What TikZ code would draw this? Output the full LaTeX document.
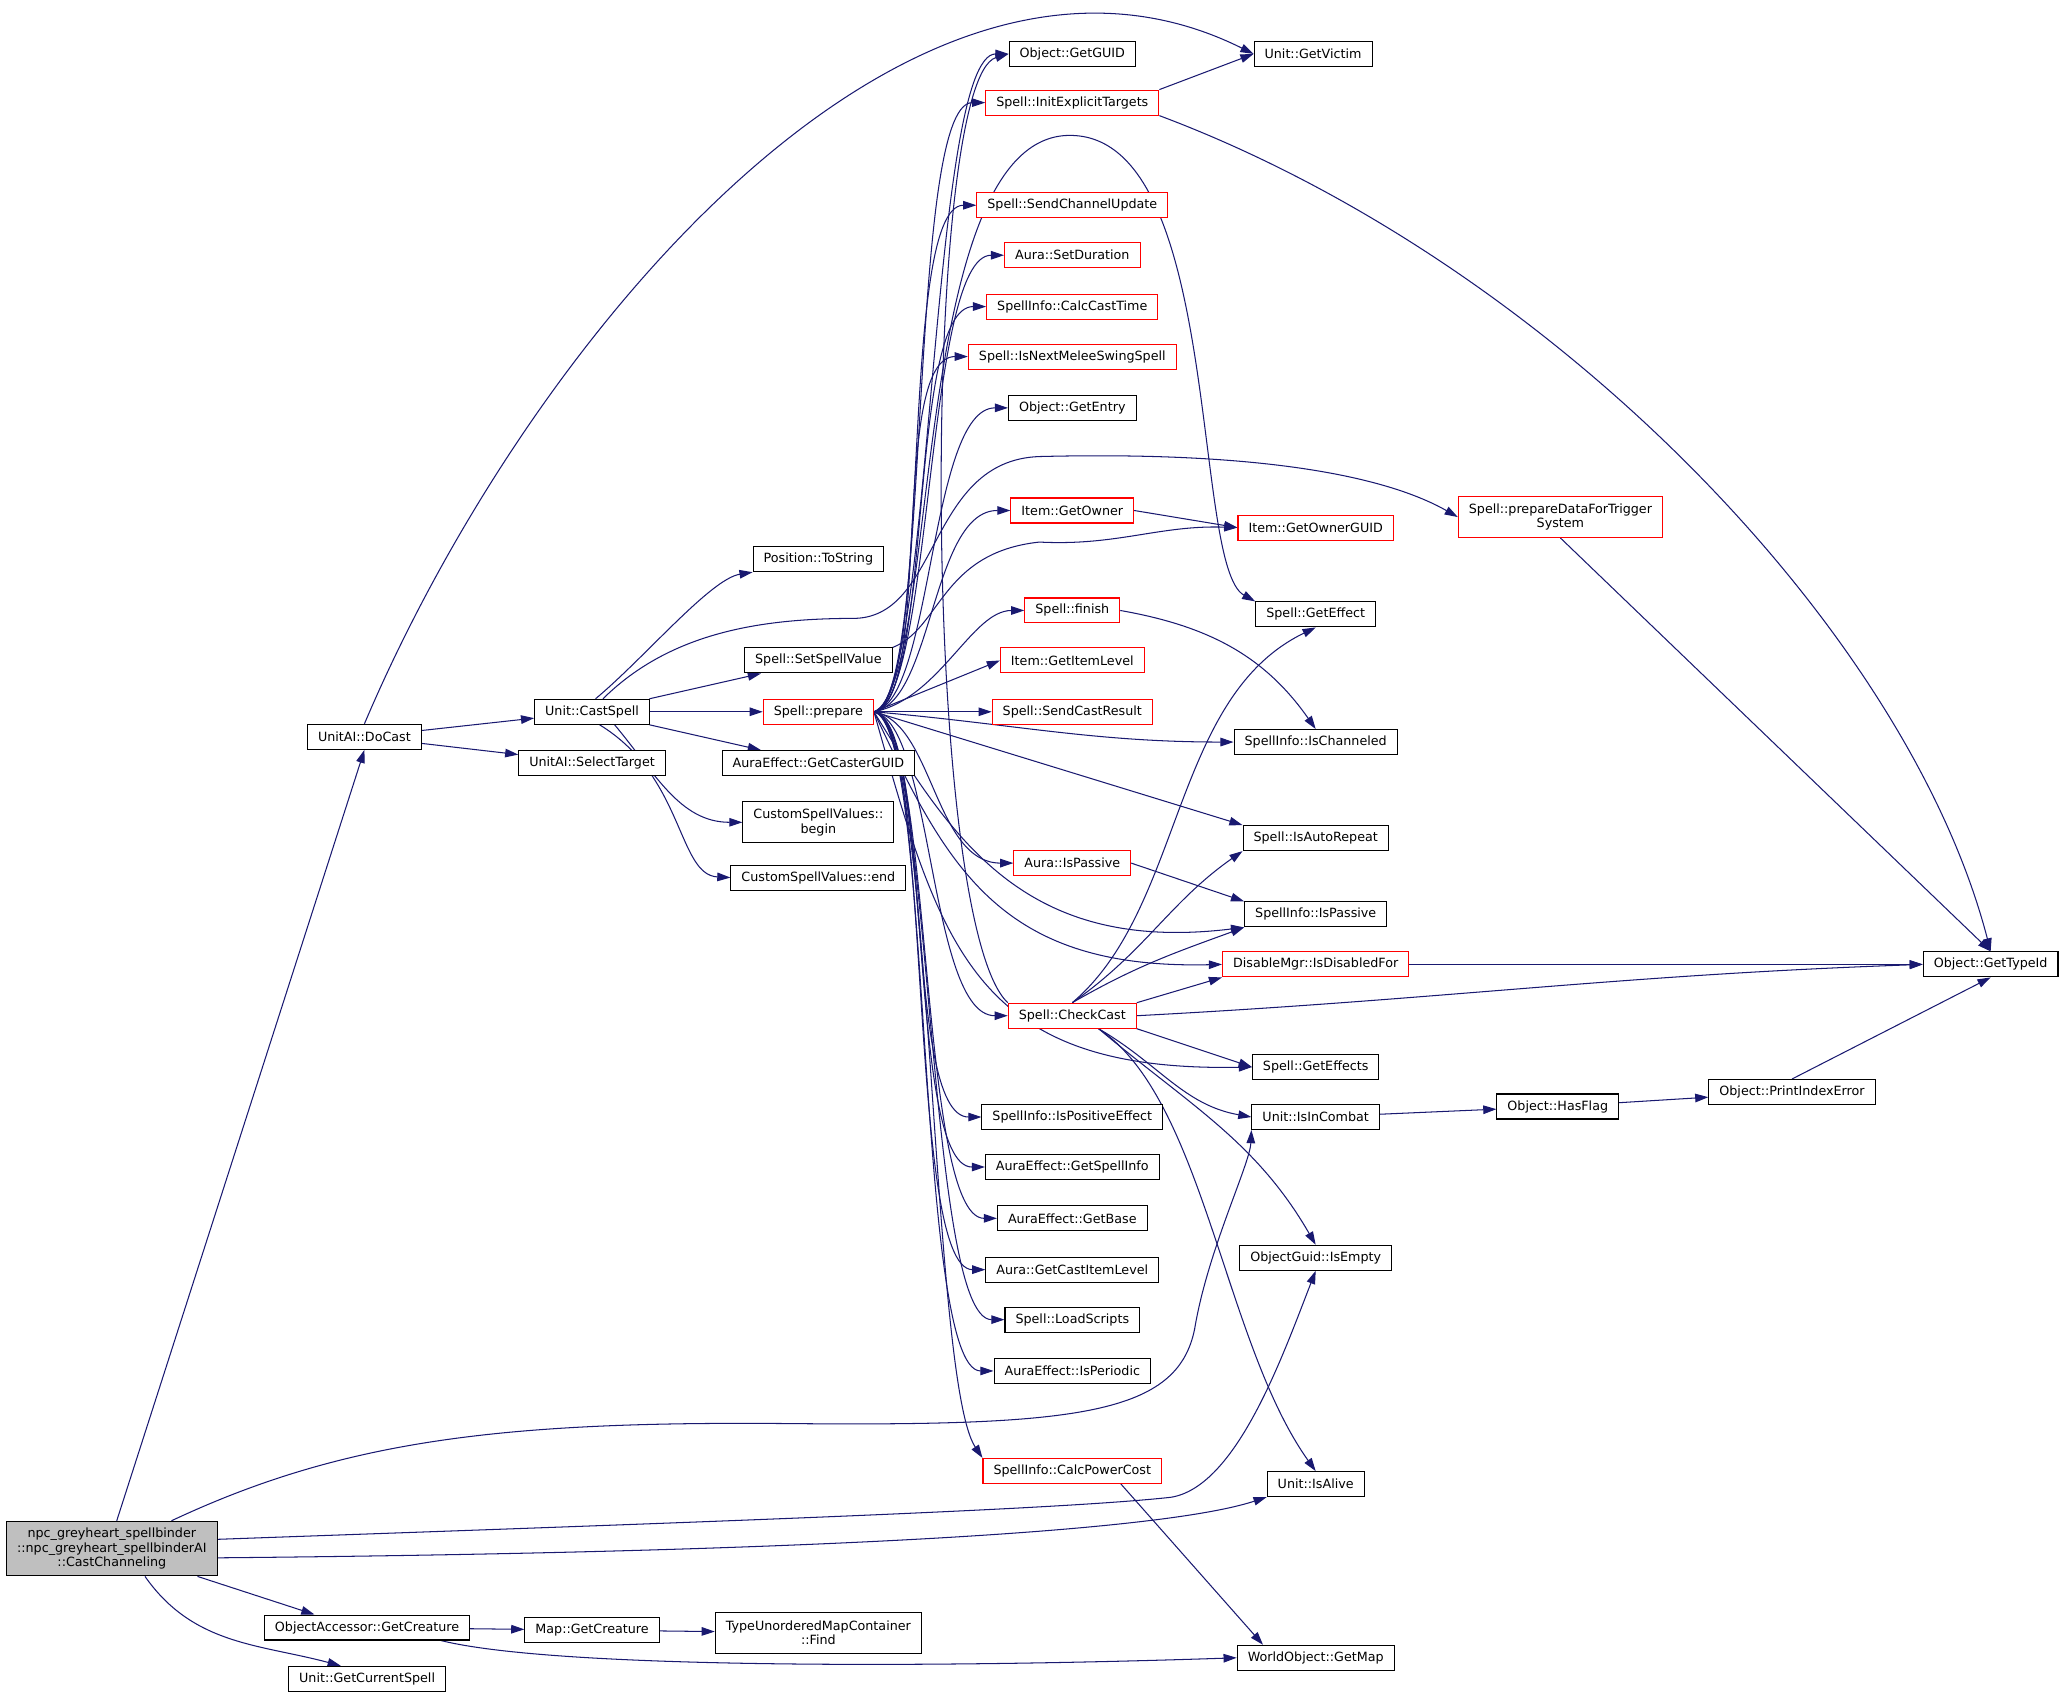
\documentclass[tikz,border=0pt]{standalone}
\usepackage{fontspec}
\setmainfont{DejaVu Sans}
\usetikzlibrary{arrows.meta, backgrounds}
\definecolor{edgeblue}{RGB}{25,25,112}
\definecolor{mainfill}{RGB}{191,191,191}
\tikzset{fn/.style={draw=black, fill=white, line width=0.45pt, inner xsep=0.16cm, inner ysep=0pt, minimum height=0.38cm, align=center, font=\fontsize{5.5}{6.4}\selectfont}}
\tikzset{fnred/.style={fn, draw=red}}
\tikzset{fnmain/.style={fn, fill=mainfill, minimum height=0.83cm}}
\tikzset{twoline/.style={minimum height=0.62cm}}
\tikzset{call/.style={draw=edgeblue, line width=0.45pt, -{Triangle[length=2mm, width=1.3mm]}}}

\begin{document}
\begin{tikzpicture}[x=0.02cm, y=-0.02cm]
            \useasboundingbox (0,0) rectangle (1568,1290);
            % caller and first level
            \node[fnmain] (chan) at (85,1177) {npc\_greyheart\_spellbinder\\::npc\_greyheart\_spellbinderAI\\::CastChanneling};
            \node[fn] (docast) at (277,560) {UnitAI::DoCast};
            \node[fn] (getcre) at (279,1237) {ObjectAccessor::GetCreature};
            \node[fn] (curspell) at (279,1276) {Unit::GetCurrentSpell};
            \node[fn] (castspell) at (450,541) {Unit::CastSpell};
            \node[fn] (seltarget) at (450,580) {UnitAI::SelectTarget};
            \node[fn] (mapcre) at (450,1239) {Map::GetCreature};
            % third column
            \node[fn] (tostring) at (622,425) {Position::ToString};
            \node[fn] (setvalue) at (622,502) {Spell::SetSpellValue};
            \node[fnred] (prepare) at (622,541) {Spell::prepare};
            \node[fn] (castguid) at (622,580) {AuraEffect::GetCasterGUID};
            \node[fn, twoline] (cbegin) at (622,625) {CustomSpellValues::\\begin};
            \node[fn] (cend) at (622,667) {CustomSpellValues::end};
            \node[fn, twoline] (find) at (622,1241) {TypeUnorderedMapContainer\\::Find};
            % fourth column
            \node[fn] (guid) at (815,41) {Object::GetGUID};
            \node[fnred] (initexp) at (815,78) {Spell::InitExplicitTargets};
            \node[fnred] (chanupd) at (815,156) {Spell::SendChannelUpdate};
            \node[fnred] (setdur) at (815,194) {Aura::SetDuration};
            \node[fnred] (casttime) at (815,233) {SpellInfo::CalcCastTime};
            \node[fnred] (melee) at (815,271) {Spell::IsNextMeleeSwingSpell};
            \node[fn] (entry) at (815,310) {Object::GetEntry};
            \node[fnred] (owner) at (815,388) {Item::GetOwner};
            \node[fnred] (finish) at (815,464) {Spell::finish};
            \node[fnred] (itemlvl) at (815,502) {Item::GetItemLevel};
            \node[fnred] (castres) at (815,541) {Spell::SendCastResult};
            \node[fnred] (aurapas) at (815,656) {Aura::IsPassive};
            \node[fnred] (checkcast) at (815,772) {Spell::CheckCast};
            \node[fn] (posfx) at (815,849) {SpellInfo::IsPositiveEffect};
            \node[fn] (spinfo) at (815,887) {AuraEffect::GetSpellInfo};
            \node[fn] (getbase) at (815,926) {AuraEffect::GetBase};
            \node[fn] (castlvl) at (815,965) {Aura::GetCastItemLevel};
            \node[fn] (scripts) at (815,1003) {Spell::LoadScripts};
            \node[fn] (periodic) at (815,1042) {AuraEffect::IsPeriodic};
            \node[fnred] (powercost) at (815,1118) {SpellInfo::CalcPowerCost};
            % fifth column
            \node[fn] (victim) at (998,41) {Unit::GetVictim};
            \node[fnred] (ownerguid) at (1000,401) {Item::GetOwnerGUID};
            \node[fn] (effect) at (1000,467) {Spell::GetEffect};
            \node[fn] (channeled) at (1000,564) {SpellInfo::IsChanneled};
            \node[fn] (autorep) at (1000,637) {Spell::IsAutoRepeat};
            \node[fn] (infopas) at (1000,695) {SpellInfo::IsPassive};
            \node[fnred] (disabled) at (1000,733) {DisableMgr::IsDisabledFor};
            \node[fn] (effects) at (1000,811) {Spell::GetEffects};
            \node[fn] (incombat) at (1000,849) {Unit::IsInCombat};
            \node[fn] (isempty) at (1000,956) {ObjectGuid::IsEmpty};
            \node[fn] (isalive) at (1000,1128) {Unit::IsAlive};
            \node[fn] (getmap) at (1000,1260) {WorldObject::GetMap};
            % right part
            \node[fnred, twoline] (trigger) at (1186,393) {Spell::prepareDataForTrigger\\System};
            \node[fn] (hasflag) at (1184,841) {Object::HasFlag};
            \node[fn] (idxerr) at (1362,830) {Object::PrintIndexError};
            \node[fn] (typeid) at (1513,733) {Object::GetTypeId};

            \begin{pgfonlayer}{background}
            % calls of the caller
            \draw[call] (chan.80) -- (docast.south);
            \draw[call] (chan.25) .. controls (260,1095) and (380,1080) .. (600,1082) .. controls (820,1084) and (895,1075) .. (908,1010) .. controls (918,950) and (950,885) .. (incombat.south west);
            \draw[call] (chan.5) .. controls (500,1158) and (800,1148) .. (890,1138) .. controls (940,1130) and (975,1030) .. (isempty.south);
            \draw[call] (chan.-5) .. controls (600,1180) and (880,1165) .. (isalive.south west);
            \draw[call] (chan.-18) -- ([xshift=-0.8cm]getcre.north);
            \draw[call] (chan.-40) to[out=-55, in=165] ([xshift=-0.4cm]curspell.north);
            \draw[call] (getcre) -- (mapcre);
            \draw[call] (getcre.-10) .. controls (420,1268) and (700,1268) .. (getmap.west);
            \draw[call] (mapcre) -- (find);

            % DoCast and CastSpell
            \draw[call] (docast.north) .. controls (400,260) and (690,-90) .. (victim.west);
            \draw[call] (docast) -- (castspell);
            \draw[call] (docast) -- (seltarget);
            \draw[call] (castspell.75) .. controls (490,500) and (540,440) .. (tostring.south west);
            \draw[call] (castspell.50) .. controls (510,480) and (580,470) .. (650,470) .. controls (715,468) and (705,350) .. (790,347) .. controls (950,343) and (1050,360) .. (trigger.west);
            \draw[call] (castspell) -- (setvalue);
            \draw[call] (castspell) -- (prepare);
            \draw[call] (castspell) -- (castguid);
            \draw[call] (castspell.-30) to[out=-50, in=180] (cbegin.west);
            \draw[call] (castspell.-60) .. controls (520,590) and (515,665) .. (cend.west);
            \draw[call] (setvalue.north east) .. controls (715,478) and (715,420) .. (790,412) to[out=-3, in=178] (ownerguid.west);

            % calls of Spell::prepare
            \foreach \callee in {guid,initexp,chanupd,setdur,casttime,melee,entry,owner}
                \draw[call] (prepare.east) .. controls +(45,-8) and +(-60,0) .. (\callee.west);
            \foreach \callee in {aurapas,checkcast,posfx,spinfo,getbase,castlvl,scripts,periodic}
                \draw[call] (prepare.east) .. controls +(45,8) and +(-60,0) .. (\callee.west);
            \draw[call] (prepare.east) .. controls +(45,10) and +(-40,-60) .. (powercost.north west);
            \draw[call] (prepare.east) .. controls +(50,-10) and +(-40,0) .. (finish.west);
            \draw[call] (prepare.east) -- (itemlvl.west);
            \draw[call] (prepare.east) -- (castres.west);
            \draw[call] (prepare.east) to[out=-5, in=180] (channeled.west);
            \draw[call] (prepare.east) -- (autorep.north west);
            \draw[call] (prepare.east) .. controls (725,640) and (780,725) .. (infopas.south west);
            \draw[call] (prepare.east) .. controls (720,660) and (760,737) .. (disabled.west);
            \draw[call] (prepare.east) .. controls (715,720) and (740,815) .. (effects.west);
            \draw[call] (prepare.east) .. controls (715,520) and (690,110) .. (810,103) .. controls (930,97) and (905,430) .. (effect.north west);

            % calls of the fourth column
            \draw[call] (initexp.north east) -- (victim.west);
            \draw[call] (initexp.south east) .. controls (1180,200) and (1450,480) .. (typeid.north);
            \draw[call] (owner.east) -- (ownerguid.west);
            \draw[call] (finish.east) to[out=-10, in=125] (channeled.north);
            \draw[call] (aurapas.east) -- (infopas.north west);
            \draw[call] (checkcast.north west) .. controls (700,700) and (700,60) .. (guid.west);
            \draw[call] (checkcast.north) .. controls (900,690) and (890,530) .. (effect.south);
            \draw[call] (checkcast.north) to[out=35, in=215] (autorep.south west);
            \draw[call] (checkcast.north) to[out=30, in=200] (infopas.south west);
            \draw[call] (checkcast.north east) -- (disabled.south west);
            \draw[call] (checkcast.east) to[out=3, in=182] (typeid.west);
            \draw[call] (checkcast.south east) -- (effects.west);
            \draw[call] ([xshift=0.4cm]checkcast.south) to[out=-30, in=170] (incombat.west);
            \draw[call] ([xshift=0.4cm]checkcast.south) to[out=-40, in=120] (isempty.north);
            \draw[call] ([xshift=0.4cm]checkcast.south) .. controls (915,835) and (930,1020) .. (isalive.north);
            \draw[call] (powercost.-15) -- ([xshift=0.4cm]getmap.north west);

            % right part
            \draw[call] (disabled) -- (typeid);
            \draw[call] (trigger.south) -- (typeid.north);
            \draw[call] (incombat) -- (hasflag);
            \draw[call] (hasflag) -- (idxerr);
            \draw[call] (idxerr.north) -- (typeid.south);
            \end{pgfonlayer}
        \end{tikzpicture}
\end{document}
